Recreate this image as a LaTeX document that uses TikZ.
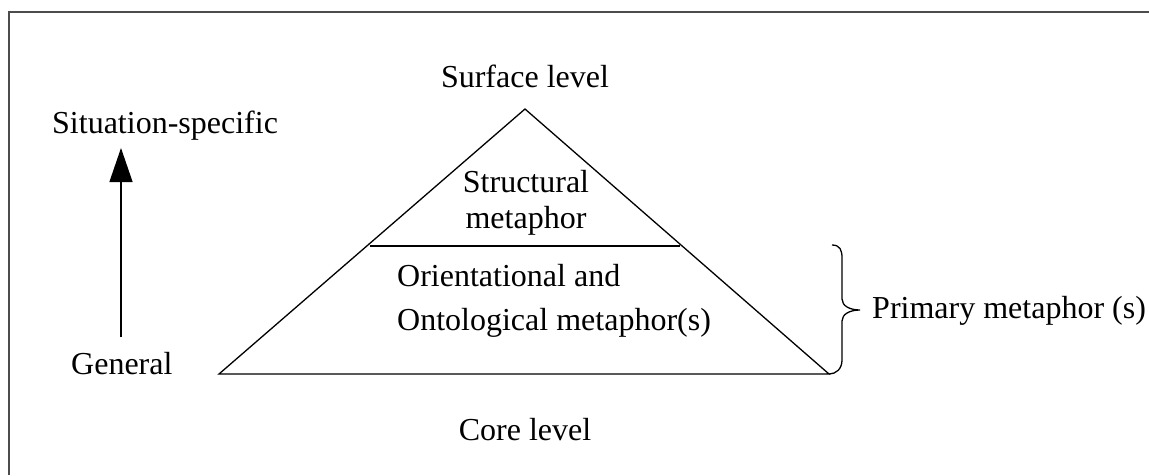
\documentclass[tikz,border=0pt]{standalone}
\usepackage{fontspec}
\setmainfont{Liberation Serif}
\usetikzlibrary{arrows.meta}
\begin{document}
\begin{tikzpicture}[x=1pt,y=-1pt,
  lbl/.style={inner sep=0pt,font=\fontsize{32}{38}\selectfont},
  edge/.style={line width=1.3pt,black},
  frameline/.style={line width=2pt,black!70}]
\useasboundingbox (0,0) rectangle (1149,475);

% open frame (top and left sides)
\draw[frameline] (1149,11.5) -- (8.5,11.5) -- (8.5,475);

% pyramid
\coordinate (apex) at (525,109);
\coordinate (bl) at (219,374);
\coordinate (br) at (829,374);
\coordinate (cutL) at (370,246);
\coordinate (cutR) at (680,246);
\draw[edge,line join=miter] (apex) -- (br) -- (bl) -- cycle;
\draw[edge] (cutL) -- (cutR);

% labels
\node[lbl,anchor=base] (surface) at (525,87) {Surface level};
\node[lbl,anchor=base] (struct1) at (526,192) {Structural};
\node[lbl,anchor=base] (struct2) at (526,228) {metaphor};
\node[lbl,anchor=base west] (orient) at (397,286) {Orientational and};
\node[lbl,anchor=base west] (onto) at (397,330) {Ontological metaphor(s)};
\node[lbl,anchor=base] (core) at (525,440) {Core level};
\node[lbl,anchor=base west] (situ) at (52,133) {Situation-specific};
\node[lbl,anchor=base west] (general) at (71,374) {General};
\node[lbl,anchor=base west] (primary) at (872,318) {Primary metaphor (s)};

% scale arrow from general to situation-specific
\coordinate (arrLow) at (121,337);
\coordinate (arrHigh) at (121,148);
\draw[edge,-{Triangle[width=23pt,length=34pt]}] (arrLow) -- (arrHigh);

% brace grouping the lower layer
\coordinate (brTop) at (832,245);
\coordinate (brTip) at (860,310);
\draw[edge] (brTop) .. controls (840,245) and (842,250) .. (842,258)
  -- (842,299) .. controls (842,306) and (850,310) .. (brTip)
  .. controls (850,310) and (842,314) .. (842,321)
  -- (842,360) .. controls (842,369) and (836,374) .. (br);
\end{tikzpicture}
\end{document}
